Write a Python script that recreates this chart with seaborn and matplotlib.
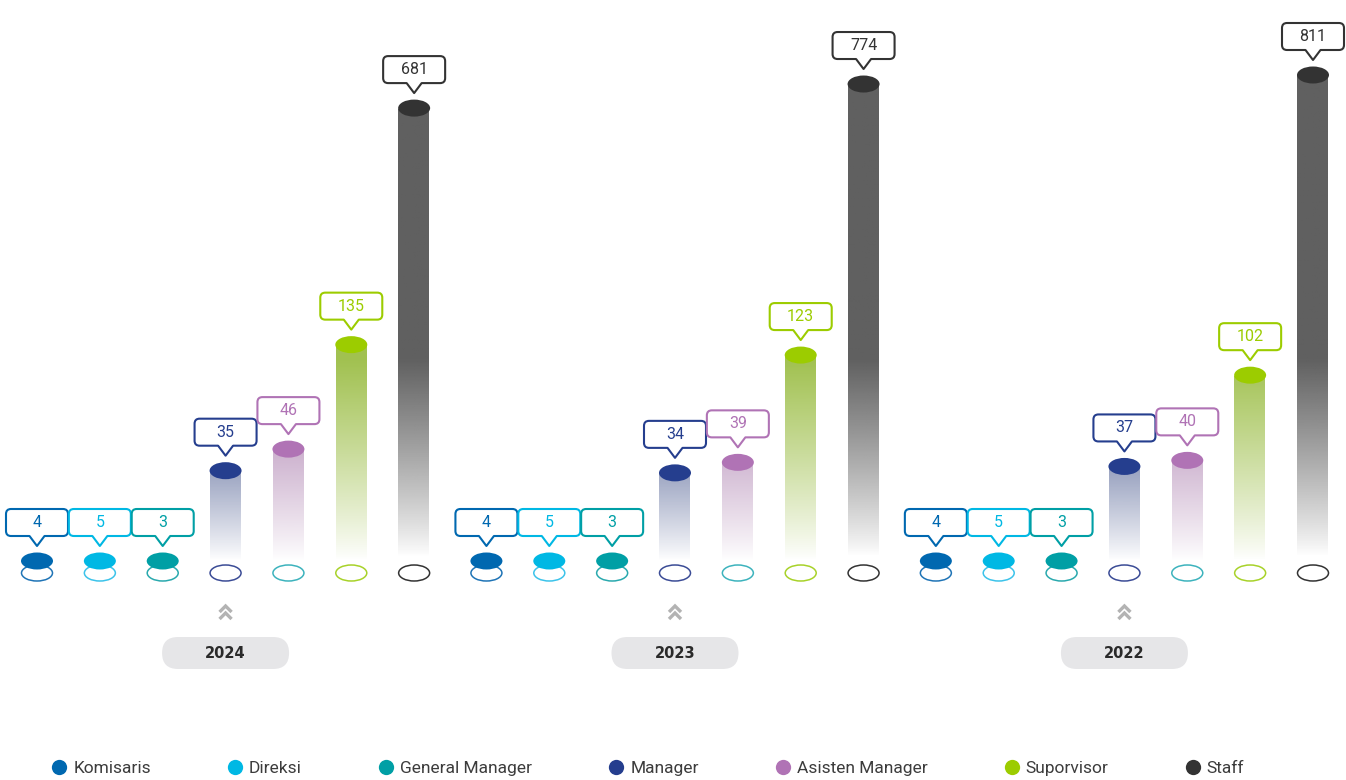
import numpy as np
import pandas as pd
import matplotlib
matplotlib.use("Agg")
import matplotlib.pyplot as plt
import seaborn as sns
from matplotlib.path import Path
from matplotlib.patches import PathPatch, Ellipse, FancyBboxPatch
from matplotlib.lines import Line2D
import matplotlib.transforms as mtransforms

# ---------------- data ----------------
years = ["2024", "2023", "2022"]
roles = ["Komisaris", "Direksi", "General Manager", "Manager",
         "Asisten Manager", "Suporvisor", "Staff"]
values_2024 = [4, 5, 3, 35, 46, 135, 681]
values_2023 = [4, 5, 3, 34, 39, 123, 774]
values_2022 = [4, 5, 3, 37, 40, 102, 811]

role_colors = ["#0068b0", "#00b8e4", "#009fa5", "#253e8e", "#b073b5", "#9ccc00", "#333333"]
bar_colors = ["#0068b0", "#00b8e4", "#009fa5", "#253e8e", "#b073b5", "#a9d43e", "#606060"]
ring_colors = ["#1f74b6", "#3cc3ea", "#2aa9ae", "#3b4c96", "#3db3bd", "#a8d22a", "#333333"]

# ---------------- setup ----------------
sns.set_theme(style="white")
plt.rcParams["font.family"] = ["Roboto", "DejaVu Sans"]

W, H, DPI = 1346, 780, 100
fig = plt.figure(figsize=(W / DPI, H / DPI), dpi=DPI, facecolor="white")
ax = fig.add_axes([0, 0, 1, 1])
ax.set_axis_off()

GROUP_STEP = 7.15
rows = []
for g, (yr, vals) in enumerate(zip(years, [values_2024, values_2023, values_2022])):
    for i, (r, v) in enumerate(zip(roles, vals)):
        rows.append(dict(year=yr, role=r, value=v, pos=g * GROUP_STEP + i, g=g, i=i))
df = pd.DataFrame(rows)

sns.barplot(data=df, x="pos", y="value", hue="role", hue_order=roles,
            palette=dict(zip(roles, bar_colors)), native_scale=True, dodge=False,
            width=0.5, errorbar=None, legend=False, ax=ax)

# power scale for the value axis
P = 0.3
def fwd(v):
    v = np.asarray(v, dtype=float)
    return np.sign(v) * np.abs(v) ** P
def inv(u):
    u = np.asarray(u, dtype=float)
    return np.sign(u) * np.abs(u) ** (1.0 / P)
ax.set_yscale("function", functions=(fwd, inv))

BASE_V = 8          # value at the baseline
BASE_PX = 561       # baseline position (px from top)
TOP_PX = 75         # position of the largest value (px from top)
vmax = df["value"].max()
k = (BASE_PX - TOP_PX) / float(fwd(vmax) - fwd(BASE_V))   # px per scaled unit

# ---------------- gradient bars ----------------
RAMP = 200.0
bars = list(ax.patches)
for p in bars:
    x0, w, top = p.get_x(), p.get_width(), p.get_height()
    p.set_visible(False)
    if top <= BASE_V:
        continue
    rgb = p.get_facecolor()[:3]
    vs = np.linspace(BASE_V, top, 500)
    pix = (fwd(vs) - fwd(BASE_V)) * k
    alpha = np.clip(pix / RAMP, 0, 1) ** 0.9
    img = np.zeros((500, 1, 4))
    img[..., 0], img[..., 1], img[..., 2] = rgb
    img[:, 0, 3] = alpha
    ax.imshow(img, extent=(x0, x0 + w, BASE_V, top), origin="lower",
              aspect="auto", interpolation="bilinear", zorder=1)

# ---------------- callout shape (pixel units) ----------------
def callout_path(w=62, y0=25, y1=52, tip=15, pw=7.5, r=5):
    xa, xb = -w / 2, w / 2
    verts = [(-pw, y0), (0, tip), (pw, y0),
             (xb - r, y0), (xb, y0), (xb, y0 + r),
             (xb, y1 - r), (xb, y1), (xb - r, y1),
             (xa + r, y1), (xa, y1), (xa, y1 - r),
             (xa, y0 + r), (xa, y0), (xa + r, y0),
             (-pw, y0)]
    codes = [Path.MOVETO, Path.LINETO, Path.LINETO,
             Path.LINETO, Path.CURVE3, Path.CURVE3,
             Path.LINETO, Path.CURVE3, Path.CURVE3,
             Path.LINETO, Path.CURVE3, Path.CURVE3,
             Path.LINETO, Path.CURVE3, Path.CURVE3,
             Path.CLOSEPOLY]
    return Path(verts, codes)

CALLOUT = callout_path()
cmap_role = dict(zip(roles, role_colors))
cmap_ring = dict(zip(roles, ring_colors))

for r in df.itertuples():
    anchor_v = max(r.value, BASE_V)
    tr_top = mtransforms.ScaledTranslation(r.pos, anchor_v, ax.transData)
    tr_base = mtransforms.ScaledTranslation(r.pos, BASE_V, ax.transData)
    col = cmap_role[r.role]
    # ring below
    ax.add_artist(Ellipse((0, -12), 31, 16, transform=tr_base, facecolor="none",
                          edgecolor=cmap_ring[r.role], lw=1.1, zorder=2))
    # top ellipse
    ax.add_artist(Ellipse((0, 0), 32, 17, transform=tr_top, facecolor=col,
                          edgecolor="none", zorder=3))
    # callout box
    ax.add_artist(PathPatch(CALLOUT, transform=tr_top, facecolor="white",
                            edgecolor=col, lw=1.5, joinstyle="round", zorder=4))
    ax.text(r.pos, anchor_v, str(r.value), ha="center", va="center",
            fontsize=11.5, color=col, zorder=5,
            transform=mtransforms.offset_copy(ax.transData, fig=fig, y=38.5, units="dots"))

# ---------------- year pills and chevrons ----------------
for g, yr in enumerate(years):
    xc = g * GROUP_STEP + 3
    tr = mtransforms.ScaledTranslation(xc, BASE_V, ax.transData)
    for dy in (-45, -52):
        chev = Path([(-6, dy - 6), (0, dy), (6, dy - 6)],
                    [Path.MOVETO, Path.LINETO, Path.LINETO])
        ax.add_artist(PathPatch(chev, transform=tr, facecolor="none",
                                edgecolor="#b3b3b3", lw=2.4, capstyle="butt",
                                joinstyle="miter", zorder=3))
    ax.add_artist(FancyBboxPatch((-63.5, -108), 127, 32,
                                 boxstyle="round,pad=0,rounding_size=16",
                                 transform=tr, facecolor="#e6e6e8",
                                 edgecolor="none", zorder=3))
    ax.text(xc, BASE_V, yr, ha="center", va="center", fontsize=10.5,
            fontweight="bold", color="#2a2a2a", family="DejaVu Sans", zorder=4,
            transform=mtransforms.offset_copy(ax.transData, fig=fig, y=-92, units="dots"))

# ---------------- limits ----------------
ax.set_autoscale_on(False)
ax.set_ylim(float(inv(fwd(BASE_V) - (H - BASE_PX) / k)),
            float(inv(fwd(vmax) + TOP_PX / k)))
maxpos = df["pos"].max()
ppu = (1313 - 37) / maxpos
ax.set_xlim(-37 / ppu, maxpos + (W - 1313) / ppu)

# ---------------- legend ----------------
handles = [Line2D([], [], ls="none", marker="o", ms=11, markerfacecolor=c,
                  markeredgecolor="none") for c in role_colors]
fig.legend(handles, roles, loc="center", bbox_to_anchor=(0.481, 1 - 768 / H),
           ncol=7, frameon=False, handletextpad=0.3,
           columnspacing=4.35, handlelength=1.0, labelcolor="#3c3c3c",
           prop={"family": "Roboto", "size": 12.5})

fig.savefig("out.png", dpi=DPI, facecolor="white")
